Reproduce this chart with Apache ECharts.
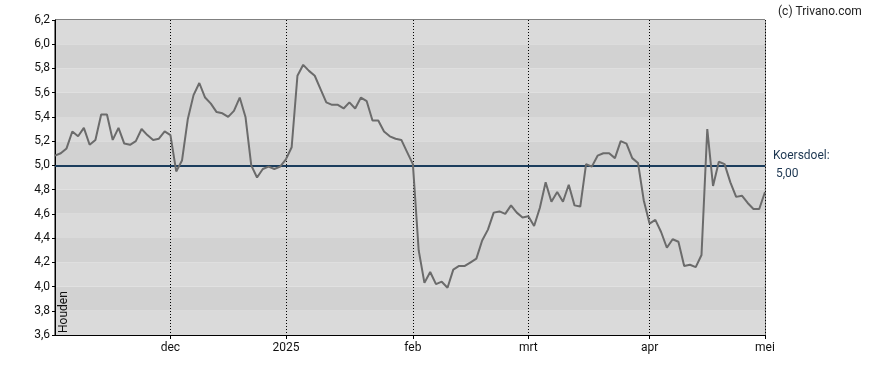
<!DOCTYPE html>
<html>
<head>
<meta charset="utf-8">
<script src="https://cdn.jsdelivr.net/npm/echarts@6/dist/echarts.min.js"></script>
<style>
html,body{margin:0;padding:0;background:#fff;}
#chart{width:888px;height:370px;}
</style>
</head>
<body>
<div id="chart"></div>
<script>
// Koers (price) per trading day
const prices = [
  5.08, 5.10, 5.14, 5.28, 5.24, 5.31, 5.17, 5.21, 5.42, 5.42,
  5.21, 5.31, 5.18, 5.17, 5.20, 5.30, 5.25, 5.21, 5.22, 5.28,
  5.25, 4.95, 5.04, 5.38, 5.58, 5.68, 5.56, 5.51, 5.44, 5.43,
  5.40, 5.45, 5.56, 5.40, 5.00, 4.90, 4.97, 4.99, 4.97, 4.99,
  5.05, 5.15, 5.74, 5.83, 5.78, 5.74, 5.63, 5.52, 5.50, 5.50,
  5.47, 5.52, 5.47, 5.56, 5.53, 5.37, 5.37, 5.28, 5.24, 5.22,
  5.21, 5.11, 5.01, 4.30, 4.03, 4.12, 4.02, 4.04, 3.99, 4.14,
  4.17, 4.17, 4.20, 4.23, 4.38, 4.47, 4.61, 4.62, 4.60, 4.67,
  4.61, 4.57, 4.58, 4.50, 4.65, 4.86, 4.70, 4.78, 4.70, 4.84,
  4.67, 4.66, 5.01, 4.99, 5.08, 5.10, 5.10, 5.06, 5.20, 5.18,
  5.06, 5.02, 4.71, 4.52, 4.55, 4.45, 4.32, 4.39, 4.37, 4.17,
  4.18, 4.16, 4.26, 5.30, 4.83, 5.03, 5.01, 4.86, 4.74, 4.75,
  4.69, 4.64, 4.64, 4.78
];
// Month tick labels and the trading-day index they sit at
const monthLabels = ['dec', '2025', 'feb', 'mrt', 'apr', 'mei'];
const monthIndex = [20, 40, 62, 82, 103, 123];
// Y axis
const yMin = 3.6, yMax = 6.2, yStep = 0.2;
// Price target (Koersdoel)
const targetValue = 5.0;
const targetLabel = 'Koersdoel:';
const advice = 'Houden';
const copyright = '(c) Trivano.com';

const categories = prices.map((_, i) => i);
const isMonth = (idx) => monthIndex.indexOf(idx) >= 0;
const fmt = (v, d) => v.toFixed(d).replace('.', ',');
const FONT = 'Roboto, Arial, sans-serif';

const chart = echarts.init(document.getElementById('chart'), null, {renderer: 'canvas'});
chart.setOption({
  animation: false,
  backgroundColor: '#ffffff',
  textStyle: {fontFamily: FONT},
  title: {
    text: copyright,
    left: 773, top: 1,
    textStyle: {fontSize: 12, fontWeight: 'normal', color: '#222', fontFamily: FONT}
  },
  grid: {
    left: 55, right: 123, top: 20, bottom: 35,
    show: true, borderColor: '#000', borderWidth: 1, backgroundColor: 'transparent'
  },
  xAxis: {
    type: 'category',
    data: categories,
    boundaryGap: false,
    axisLine: {lineStyle: {color: '#000', width: 1}},
    axisTick: {show: true, interval: (idx) => isMonth(idx), length: 4, lineStyle: {color: '#000'}},
    axisLabel: {
      interval: (idx) => isMonth(idx),
      formatter: (val, idx) => monthLabels[monthIndex.indexOf(idx)] || '',
      color: '#111', fontSize: 12, margin: 7, fontFamily: FONT
    },
    splitLine: {show: true, interval: (idx) => isMonth(idx), lineStyle: {color: '#000', width: 1, type: [1, 2]}}
  },
  yAxis: {
    type: 'value',
    min: yMin, max: yMax, interval: yStep,
    axisLine: {show: true, lineStyle: {color: '#000', width: 1}},
    axisTick: {show: true, length: 3, lineStyle: {color: '#000'}},
    axisLabel: {formatter: (v) => fmt(v, 1), color: '#111', fontSize: 12, margin: 5, fontFamily: FONT},
    splitLine: {show: false},
    splitArea: {show: true, areaStyle: {color: ['#dadada', '#d2d2d2']}}
  },
  graphic: [{
    type: 'text',
    x: 64, y: 333,
    rotation: Math.PI / 2,
    z: 100,
    silent: true,
    style: {text: advice, fill: '#111', fontSize: 12, fontFamily: FONT, align: 'left', verticalAlign: 'middle'}
  }],
  series: [{
    type: 'line',
    data: prices,
    symbol: 'none',
    lineStyle: {color: '#6b6b6b', width: 2},
    itemStyle: {color: '#6b6b6b'},
    z: 3,
    markLine: {
      silent: true,
      symbol: ['none', 'none'],
      lineStyle: {color: '#1b3d5d', width: 2, type: 'solid'},
      label: {
        show: true, position: 'end', distance: 8,
        formatter: targetLabel + '\n ' + fmt(targetValue, 2),
        color: '#1b3550', fontSize: 12, lineHeight: 18, fontFamily: FONT
      },
      data: [{yAxis: targetValue}],
      z: 2
    }
  }]
});
</script>
</body>
</html>
